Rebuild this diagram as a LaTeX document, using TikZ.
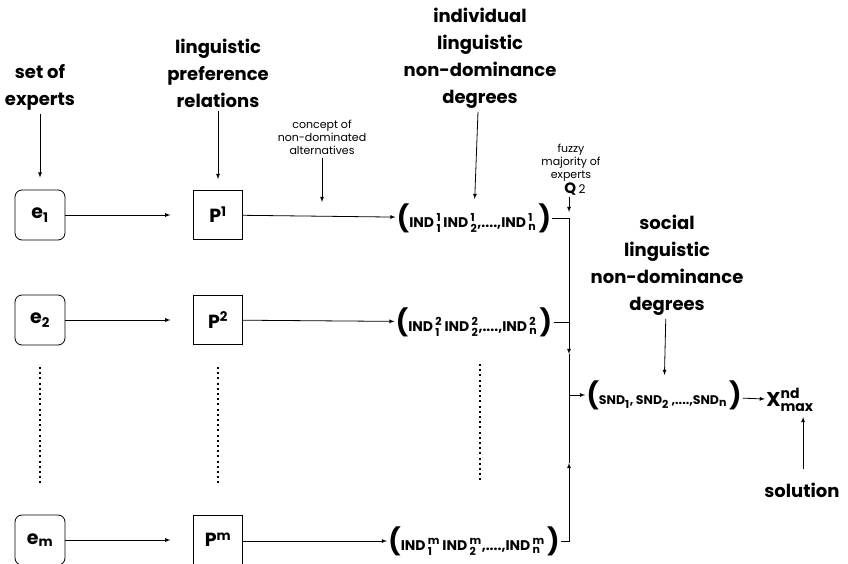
\documentclass[tikz,border=0pt]{standalone}
\usepackage{amsmath}
\usepackage{fontspec}
\setmainfont{Poppins}
\usetikzlibrary{positioning}

\newcommand{\scr}[1]{\text{\fontsize{11}{11}\selectfont #1}}
\newcommand{\ind}[2]{IND\,$^{\scr{#1}}_{\scr{#2}}$}
\newcommand{\snd}[1]{SND$_{\scr{#1}}$}
\newcommand{\bigpar}[1]{{\fontsize{26}{26}\selectfont #1}}

\begin{document}
\begin{tikzpicture}[
        x=1pt, y=-1pt, >=latex, line width=0.8pt,
        big/.style={font=\bfseries\fontsize{18}{27}\selectfont, align=center},
        small/.style={font=\fontsize{11}{13}\selectfont, align=center},
        expert/.style={draw, rounded corners=7pt, minimum size=50pt, inner sep=0pt,
          font=\bfseries\fontsize{19}{19}\selectfont},
        rel/.style={draw, minimum size=49pt, inner sep=0pt,
          font=\bfseries\fontsize{19}{19}\selectfont},
        tuple/.style={inner sep=1pt, font=\bfseries\fontsize{14}{14}\selectfont},
        dots/.style={line width=2pt, dash pattern=on 2pt off 3.2pt}
      ]
      \useasboundingbox (0,0) rectangle (848,563);

      % labels on top
      \node[big] (setof) at (40,87) {set of\\experts};
      \node[big] (prefrel) at (218,73) {linguistic\\preference\\relations};
      \node[big] (indiv) at (480,58) {individual\\linguistic\\non-dominance\\degrees};
      \node[small] (concept) at (322,137) {concept of\\non-dominated\\alternatives};
      \node[small] (fuzzy) at (571,163) {fuzzy\\majority of\\experts};
      \node[inner sep=1pt] (q) at (575,189) {\fontsize{15}{15}\selectfont\bfseries Q\,\mdseries\fontsize{12}{12}\selectfont 2};
      \node[big] (social) at (667,265) {social\\linguistic\\non-dominance\\degrees};
      \node[big] (solution) at (802,490) {solution};

      % experts
      \node[expert] (e1) at (40,215) {e$_{\text{1}}$};
      \node[expert] (e2) at (40,320) {e$_{\text{2}}$};
      \node[expert] (em) at (40,540) {e$_{\text{m}}$};

      % preference relations
      \node[rel] (p1) at (218,215) {P$^{\text{1}}$};
      \node[rel] (p2) at (218,320) {P$^{\text{2}}$};
      \node[rel] (pm) at (218,540) {P$^{\text{m}}$};

      % individual degrees
      \node[tuple] (t1) at (474,218) {\bigpar{(}\ind{1}{1}\,\ind{1}{2},....,\ind{1}{n}\,\bigpar{)}};
      \node[tuple] (t2) at (474,322) {\bigpar{(}\ind{2}{1}\,\ind{2}{2},....,\ind{2}{n}\,\bigpar{)}};
      \node[tuple] (tm) at (474,541) {\bigpar{(}\ind{m}{1}\,\ind{m}{2},....,\ind{m}{n}\,\bigpar{)}};

      % social degrees and solution
      \node[tuple, font=\bfseries\fontsize{12.5}{13}\selectfont] (snd) at (664,395)
        {\bigpar{(}\snd{1}, \snd{2} ,....,\snd{n}\,\bigpar{)}};
      \node[inner sep=1pt] (xmax) at (790,400) {\bfseries\fontsize{20}{20}\selectfont X$^{\text{nd}}_{\text{max}}$};

      % bus
      \coordinate (b1) at (569,218);
      \coordinate (bdown) at (569,354);
      \coordinate (j) at (569,395);
      \coordinate (bup) at (569,463);

      % arrows from labels
      \draw[->, shorten >=12pt] (setof) -- (e1);
      \draw[->, shorten >=11pt] (prefrel) -- (p1);
      \draw[->, shorten >=3pt] (indiv) -- (t1);
      \draw[->] (concept.south) -- (concept.south |- t1.north);
      \draw[->, shorten >=6pt] (q.south -| b1) -- (b1);
      \draw[->, shorten >=4pt] (social) -- (snd);
      \draw[->, shorten >=4pt] (solution.north -| xmax.south east) ++(-12,-10) coordinate (sol)
        (sol) -- (sol |- xmax.south);

      % rows
      \draw[->] (e1.east) -- ++(105,0);
      \draw[->] (e2.east) -- ++(105,0);
      \draw[->] (em.east) -- ++(105,0);
      \draw[->] (p1) -- (t1);
      \draw[->] (p2) -- (t2);
      \draw[->] (pm.east |- tm) -- (tm);

      % collecting the degrees
      \draw[->] (t1.east) -| (bdown);
      \draw (bdown) -- (j);
      \draw (t2.east) -- (t2.east -| j);
      \draw[->] (tm.east) -| (bup);
      \draw (bup) -- (j);
      \draw[->] (j) -- (snd.west);
      \draw[->] (snd) -- (xmax);

      % vertical dots
      \draw[dots] (40,367) -- (40,483);
      \draw[dots] (218,367) -- (218,485);
      \draw[dots] (480,364) -- (480,480);

    \end{tikzpicture}
\end{document}
